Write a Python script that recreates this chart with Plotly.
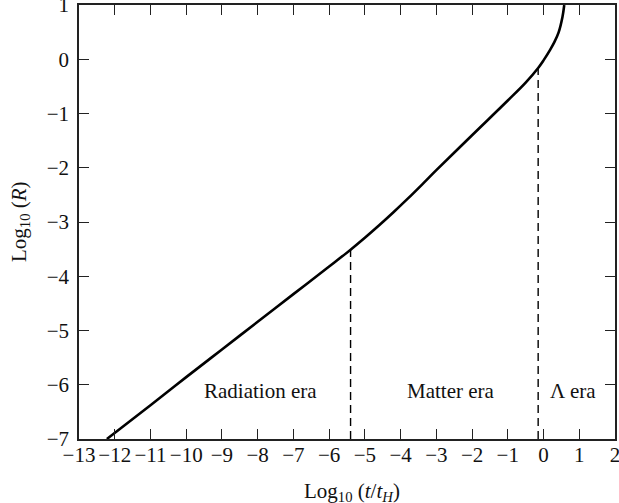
import plotly.graph_objects as go

# Curve: log10(t/tH) vs log10(R)
log_t = [-12.22, -11.0, -10.0, -9.0, -8.0, -7.0, -6.0, -5.4, -5.0, -4.6, -4.2, -3.8, -3.4,
         -3.0, -2.0, -1.0, -0.5, -0.15, 0.0, 0.18, 0.3, 0.42, 0.53, 0.58]
log_R = [-7.0, -6.38, -5.86, -5.35, -4.84, -4.33, -3.82, -3.51, -3.29, -3.06, -2.82, -2.57, -2.31,
         -2.045, -1.40, -0.76, -0.43, -0.16, -0.02, 0.17, 0.31, 0.49, 0.78, 1.0]

# Era boundaries (dashed verticals)
boundary_x = [-5.4, -0.15]
boundary_top = [-3.51, -0.16]

era_labels = ["Radiation era", "Matter era", "Λ era"]
era_label_x = [-7.93, -2.59, 0.83]
era_label_y = [-6.12, -6.12, -6.12]

x_ticks = list(range(-13, 3))
y_ticks = list(range(-7, 2))

x_title = "Log<sub>10</sub> (<i>t</i>/<i>t<sub>H</sub></i>)"
y_title = "Log<sub>10</sub> (<i>R</i>)"

FONT = "Liberation Serif, Times New Roman, serif"

fig = go.Figure()
for bx, bt in zip(boundary_x, boundary_top):
    fig.add_trace(go.Scatter(x=[bx, bx], y=[-7, bt], mode="lines",
                             line=dict(color="black", width=1.4, dash="8px,5px"),
                             showlegend=False, hoverinfo="skip"))
fig.add_trace(go.Scatter(x=log_t, y=log_R, mode="lines",
                         line=dict(color="black", width=2.6, shape="spline", smoothing=1.0),
                         showlegend=False))

for t, x, y in zip(era_labels, era_label_x, era_label_y):
    fig.add_annotation(x=x, y=y, text=t, showarrow=False,
                       font=dict(family=FONT, size=21, color="#111"))

# Axis titles as paper-anchored annotations
fig.add_annotation(xref="paper", yref="paper", x=0.509, y=-0.122, text=x_title,
                   showarrow=False, xanchor="center", yanchor="middle",
                   font=dict(family=FONT, size=21, color="#111"))
fig.add_annotation(xref="paper", yref="paper", x=-0.110, y=0.5, text=y_title,
                   showarrow=False, xanchor="center", yanchor="middle", textangle=-90,
                   font=dict(family=FONT, size=21, color="#111"))

axis_common = dict(showline=True, linecolor="#222", linewidth=1.5, mirror="ticks",
                   ticks="inside", ticklen=10, tickwidth=1.3, tickcolor="#222",
                   showgrid=False, zeroline=False, automargin=False,
                   ticklabeloverflow="allow",
                   tickfont=dict(family=FONT, size=21, color="#111"))

fig.update_xaxes(range=[-13.0005, 2.0005], tickvals=x_ticks, ticklabelstandoff=-4,
                 **axis_common)
fig.update_yaxes(range=[-7.0005, 1.0005], tickvals=y_ticks, ticklabelstandoff=4,
                 **axis_common)

fig.update_layout(width=619, height=503, margin=dict(l=79, r=4, t=5, b=64),
                  plot_bgcolor="white", paper_bgcolor="white")

fig.write_html("out.html", config={"displayModeBar": False},
               post_script="document.body.style.margin='0';document.body.style.overflow='hidden';")
